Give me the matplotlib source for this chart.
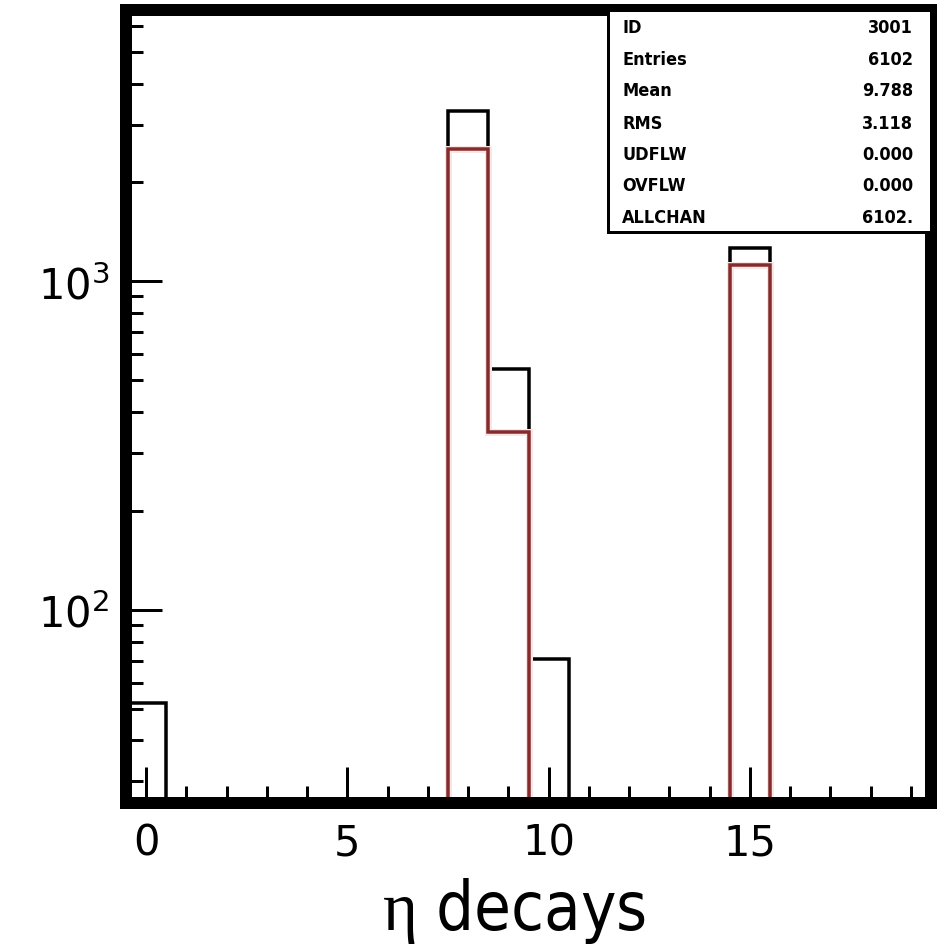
import numpy as np
import matplotlib
matplotlib.use("Agg")
import matplotlib.pyplot as plt
from matplotlib.ticker import LogLocator, FixedLocator, NullFormatter, LogFormatterMathtext
from matplotlib.patches import Rectangle

# ---- data ----
bin_edges = np.arange(-0.5, 20.0, 1.0)           # 20 bins, centred on 0..19
counts_all = [52, 0, 0, 0, 0, 0, 0, 0, 3310, 540, 71, 0, 0, 0, 0, 1260, 0, 0, 0, 0]
counts_sel = [0, 0, 0, 0, 0, 0, 0, 0, 2530, 348, 0, 0, 0, 0, 0, 1120, 0, 0, 0, 0]
stat_labels = ["ID", "Entries", "Mean", "RMS", "UDFLW", "OVFLW", "ALLCHAN"]
stat_values = ["3001", "6102", "9.788", "3.118", "0.000", "0.000", "6102."]
x_major = [0, 5, 10, 15]
x_label = r"$\mathrm{\eta}$ decays"

plt.rcParams['mathtext.fontset'] = 'custom'
plt.rcParams['mathtext.rm'] = 'Liberation Serif'
plt.rcParams['mathtext.it'] = 'Liberation Serif:italic'

W, H = 944, 945
fig = plt.figure(figsize=(W / 100, H / 100), dpi=100)
L, R, T, B = 126, 931, 10.5, 804
ax = fig.add_axes([L / W, 1 - B / H, (R - L) / W, (B - T) / H])

ax.set_xlim(-0.5, 19.5)
ax.set_yscale('log')
ax.set_ylim(25.8, 6725)

px = 72 / 100.0  # points per pixel
ax.stairs(counts_all, bin_edges, baseline=0, color='black', lw=3.5 * px, zorder=3)
ax.stairs(counts_sel, bin_edges, baseline=0, color='#fbe6e6', lw=7 * px, zorder=4)
ax.stairs(counts_sel, bin_edges, baseline=0, color='#852b2b', lw=3.5 * px, zorder=5)

for s in ax.spines.values():
    s.set_linewidth(12 * px)
    s.set_zorder(6)

ax.xaxis.set_major_locator(FixedLocator(x_major))
ax.xaxis.set_minor_locator(FixedLocator([i for i in range(0, 20) if i not in x_major]))
ax.yaxis.set_major_locator(LogLocator(base=10, numticks=10))
ax.yaxis.set_minor_locator(LogLocator(base=10, subs=np.arange(2, 10), numticks=20))
ax.yaxis.set_minor_formatter(NullFormatter())
ax.yaxis.set_major_formatter(LogFormatterMathtext())

ax.tick_params(which='both', direction='in', top=False, right=False,
               width=3 * px, color='black')
ax.tick_params(which='major', length=36 * px)
ax.tick_params(which='minor', length=17 * px)
ax.tick_params(axis='x', which='major', labelsize=30, pad=13)
ax.tick_params(axis='y', which='major', labelsize=30, pad=12)
for lab in ax.get_xticklabels() + ax.get_yticklabels():
    lab.set_fontfamily('DejaVu Sans')

# x label
fig.text(514 / W, 1 - 930 / H, x_label, ha='center', va='baseline',
         fontsize=48, family='DejaVu Sans', stretch='condensed')

# stats box
bx0, by0, bx1, by1 = 608, 10.5, 931, 233
ax.add_patch(Rectangle((bx0 / W, 1 - by1 / H), (bx1 - bx0) / W, (by1 - by0) / H,
                       transform=fig.transFigure, facecolor='white', edgecolor='black',
                       lw=3 * px, zorder=7, clip_on=False))
row_y = [28, 60, 91, 124, 155, 186, 218]
for yy, lab, val in zip(row_y, stat_labels, stat_values):
    fig.text(622 / W, 1 - yy / H, lab, ha='left', va='center', fontsize=13,
             family='DejaVu Sans', stretch='condensed', weight='bold', zorder=8)
    fig.text(913 / W, 1 - yy / H, val, ha='right', va='center', fontsize=13,
             family='DejaVu Sans', stretch='condensed', weight='bold', zorder=8)

fig.savefig('out.png', dpi=100, facecolor='white')
